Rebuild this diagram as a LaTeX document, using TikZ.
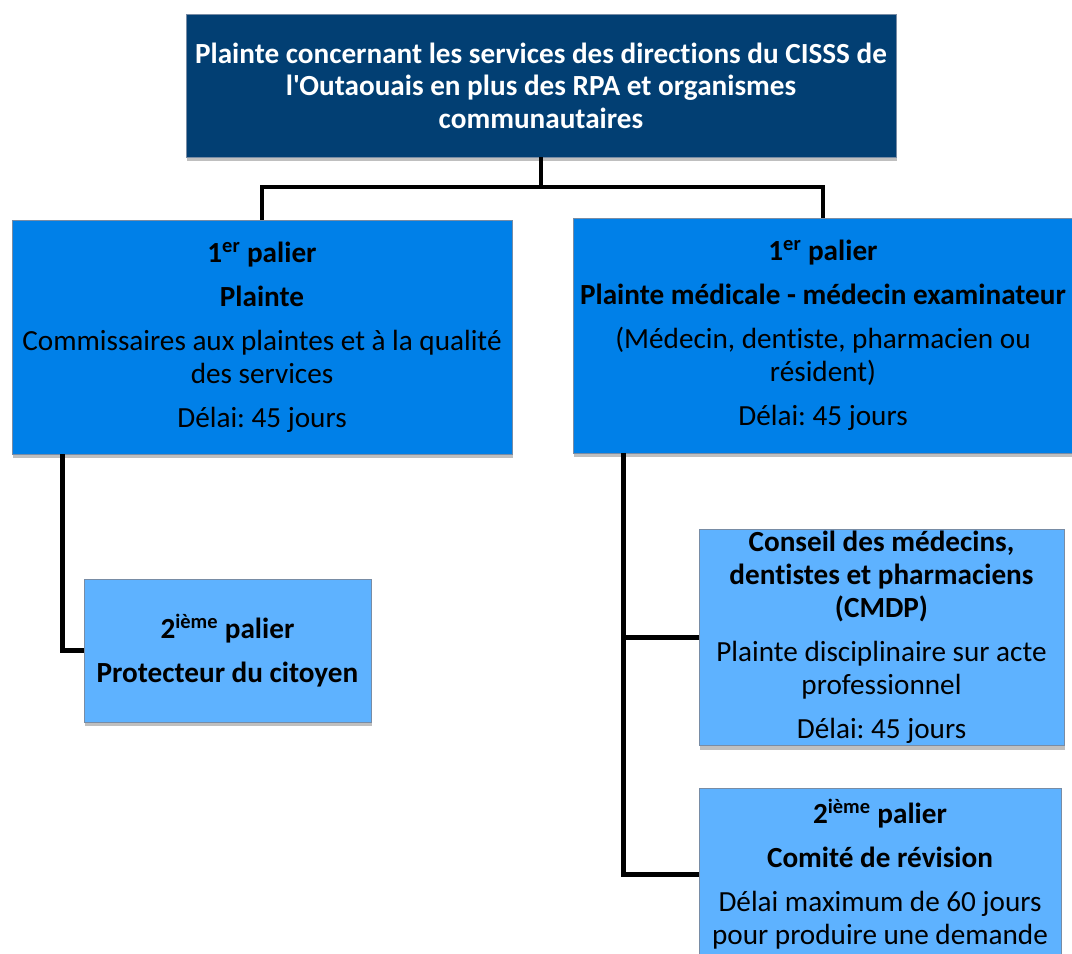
\documentclass[tikz,border=0pt]{standalone}
\usepackage{fontspec}
\setmainfont{Carlito}[Ligatures={TeXOff,NoCommon}]
\usetikzlibrary{shadows,calc}
\definecolor{navy}{RGB}{2,63,115}
\definecolor{midblue}{RGB}{0,128,232}
\definecolor{lightblue}{RGB}{94,178,255}
\definecolor{bordergray}{RGB}{120,140,165}
\frenchspacing
\tikzset{
  box/.style={draw=bordergray, line width=0.6pt, inner sep=0pt, align=center,
    font=\fontsize{21.9}{24.75}\selectfont,
    drop shadow={shadow xshift=1pt, shadow yshift=-3pt, fill=black, opacity=0.25}},
  boxtext/.style={inner sep=0pt, align=center, font=\fontsize{21.9}{24.75}\selectfont},
  conn/.style={line width=3.5pt, line join=miter}
}
\begin{document}
\begin{tikzpicture}[x=0.75pt,y=-0.75pt]
\useasboundingbox (0,0) rectangle (1072,954);
\clip (0,0) rectangle (1072,954);

\node[box, fill=navy, text=white, font=\fontsize{21.9}{24.4}\selectfont\bfseries,
      minimum width=532.5pt, minimum height=107.25pt] (top) at (541,85.5)
  {Plainte concernant les services des directions du CISSS de\\l'Outaouais en plus des RPA et organismes\\communautaires};

\node[box, fill=midblue, minimum width=375pt, minimum height=175.5pt] (L1) at (262,337)
  {{\bfseries 1\textsuperscript{er} palier}\\[8.25pt]{\bfseries Plainte}\\[8.25pt]Commissaires aux plaintes et à la qualité\\des services\\[8.25pt]Délai: 45 jours};

\node[box, fill=midblue, minimum width=375pt, minimum height=176.25pt] (R1) at (823,335.5)
  {{\bfseries 1\textsuperscript{er} palier}\\[8.25pt]{\bfseries Plainte médicale - médecin examinateur}\\[8.25pt](Médecin, dentiste, pharmacien ou\\résident)\\[8.25pt]Délai: 45 jours};

\node[box, fill=lightblue, minimum width=215.25pt, minimum height=107.25pt] (L2) at (227.5,650.5)
  {{\bfseries 2\textsuperscript{ième} palier}\\[8.25pt]{\bfseries Protecteur du citoyen}};

\node[box, fill=lightblue, minimum width=273.75pt, minimum height=162pt] (cm) at (881.5,637.5)
  {{\bfseries Conseil des médecins,}\\{\bfseries dentistes et pharmaciens}\\{\bfseries (CMDP)}\\[8.25pt]Plainte disciplinaire sur acte\\professionnel\\[8.25pt]Délai: 45 jours};

\node[box, fill=lightblue, minimum width=271.5pt, minimum height=159pt] (co) at (880,894) {};
\node[boxtext, anchor=north] (cot) at (880,799)
  {{\bfseries 2\textsuperscript{ième} palier}\\[8.25pt]{\bfseries Comité de révision}\\[8.25pt]Délai maximum de 60 jours\\pour produire une demande};

\coordinate (j) at (541,187);
\draw[conn] (top.south) -- (j);
\draw[conn] (L1.north) |- (j) -| (R1.north);
\draw[conn] ([xshift=38.25pt]L1.south west) |- (L2.west);
\draw[conn] ([xshift=38.25pt]R1.south west) |- (cm.west);
\draw[conn] ([xshift=38.25pt]R1.south west) |- ([yshift=-65.25pt]co.north west);
\end{tikzpicture}
\end{document}
